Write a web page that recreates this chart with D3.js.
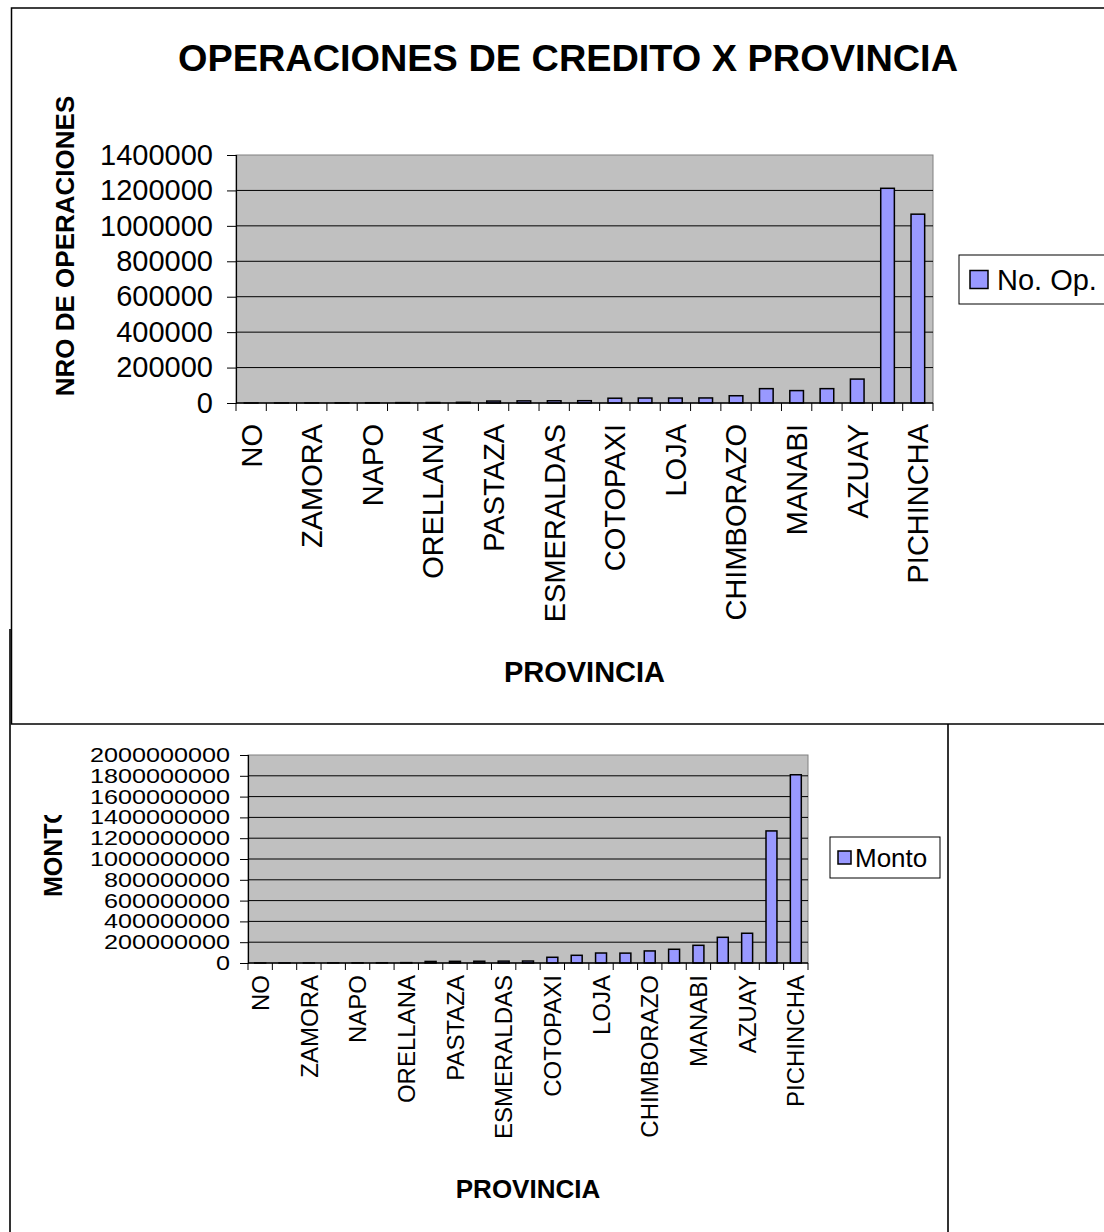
<!DOCTYPE html>
<html>
<head>
<meta charset="utf-8">
<script src="https://cdn.jsdelivr.net/npm/d3@7"></script>
<style>
body { margin: 0; background: #fff; }
text { font-family: "Liberation Sans", Arial, sans-serif; fill: #000; }
</style>
</head>
<body>
<svg id="chart" width="1104" height="1232"></svg>
<script>
// provincias ordenadas como en la hoja (solo se rotulan las pares)
var provincias = ['NO', 'GALAPAGOS', 'ZAMORA', 'MORONA', 'NAPO', 'SUCUMBIOS', 'ORELLANA', 'BOLIVAR',
	'PASTAZA', 'CARCHI', 'ESMERALDAS', 'CAÑAR', 'COTOPAXI', 'IMBABURA', 'LOJA', 'LOS RIOS',
	'CHIMBORAZO', 'EL ORO', 'MANABI', 'TUNGURAHUA', 'AZUAY', 'GUAYAS', 'PICHINCHA'];

var nroOperaciones = [150, 300, 600, 900, 1500, 2100, 2600, 3800,
	11000, 12000, 12500, 13000, 27000, 28000, 28000, 28500,
	41000, 81000, 70000, 81000, 135000, 1212000, 1066000];

var montos = [200000, 500000, 900000, 1500000, 2000000, 2500000, 3500000, 15000000,
	16000000, 17000000, 18000000, 19000000, 55000000, 74000000, 96000000, 95000000,
	116000000, 132000000, 170000000, 247000000, 286000000, 1270000000, 1810000000];

var ticksOperaciones = [0, 200000, 400000, 600000, 800000, 1000000, 1200000, 1400000];
var ticksMonto = [0, 200000000, 400000000, 600000000, 800000000, 1000000000,
	1200000000, 1400000000, 1600000000, 1800000000, 2000000000];

var svg = d3.select('#chart');
var barColor = '#9999FF';

// marcos de los dos graficos
svg.append('rect')
	.attr('x', 10).attr('y', 630).attr('width', 938).attr('height', 640)
	.attr('fill', '#fff').attr('stroke', '#333').attr('stroke-width', 2);
svg.append('rect')
	.attr('x', 11.5).attr('y', 8).attr('width', 1120).attr('height', 716)
	.attr('fill', '#fff').attr('stroke', '#000').attr('stroke-width', 1.5);

function drawChart(o) {
	var g = svg.append('g');

	var x = d3.scaleBand().domain(d3.range(provincias.length)).range([o.left, o.right]);
	var y = d3.scaleLinear().domain([0, o.ticks[o.ticks.length - 1]]).range([o.bottom, o.top]);
	var bw = x.bandwidth();
	var barW = bw * 0.45;

	// area de trazado
	g.append('rect')
		.attr('x', o.left).attr('y', o.top)
		.attr('width', o.right - o.left).attr('height', o.bottom - o.top)
		.attr('fill', '#C0C0C0').attr('stroke', '#808080').attr('stroke-width', 1);

	// lineas de division
	g.selectAll('.grid')
		.data(o.ticks.slice(1, -1))
		.enter()
		.append('line')
		.attr('x1', o.left).attr('x2', o.right)
		.attr('y1', function (d) { return y(d); })
		.attr('y2', function (d) { return y(d); })
		.attr('stroke', '#000').attr('stroke-width', 1);

	// barras
	g.selectAll('.bar')
		.data(o.values)
		.enter()
		.append('rect')
		.attr('x', function (d, i) { return x(i) + (bw - barW) / 2; })
		.attr('y', function (d) { return y(d); })
		.attr('width', barW)
		.attr('height', function (d) { return y(0) - y(d); })
		.attr('fill', barColor).attr('stroke', '#000').attr('stroke-width', 1.5);

	// eje y
	var yAxis = d3.axisLeft(y).tickValues(o.ticks).tickSize(o.tickLen).tickPadding(o.tickPad)
		.tickFormat(d3.format('d'));
	var ya = g.append('g').attr('transform', 'translate(' + o.left + ',0)').call(yAxis);
	ya.select('.domain').attr('stroke', '#000').attr('stroke-width', 1.2);
	ya.selectAll('.tick line').attr('stroke', '#000');
	ya.selectAll('.tick text')
		.attr('font-size', o.tickFont).attr('fill', '#000')
		.style('font-family', '"Liberation Sans", Arial, sans-serif');
	if (o.digitWidth) {
		// etiquetas apretadas: se ensanchan a lo ancho como en el original
		ya.selectAll('.tick text')
			.attr('textLength', function (d) { return String(d).length * o.digitWidth; })
			.attr('lengthAdjust', 'spacingAndGlyphs');
	}

	// eje x: marcas en los limites de cada categoria
	g.append('line')
		.attr('x1', o.left).attr('x2', o.right)
		.attr('y1', o.bottom).attr('y2', o.bottom)
		.attr('stroke', '#000').attr('stroke-width', 1.5);
	g.selectAll('.xtick')
		.data(d3.range(provincias.length + 1))
		.enter()
		.append('line')
		.attr('x1', function (i) { return o.left + i * bw; })
		.attr('x2', function (i) { return o.left + i * bw; })
		.attr('y1', o.bottom).attr('y2', o.bottom + o.tickLen - 1)
		.attr('stroke', '#000').attr('stroke-width', 1);

	g.selectAll('.xlabel')
		.data(provincias)
		.enter()
		.filter(function (d, i) { return i % 2 === 0; })
		.append('text')
		.attr('transform', function (d) {
			var i = provincias.indexOf(d);
			return 'translate(' + (x(i) + bw / 2) + ',' + o.labelTop + ') rotate(-90)';
		})
		.attr('dy', '0.36em')
		.attr('text-anchor', 'end')
		.attr('font-size', o.labelFont)
		.text(function (d) { return d; });

	// titulo eje x
	g.append('text')
		.attr('x', (o.left + o.right) / 2).attr('y', o.xTitleY)
		.attr('text-anchor', 'middle')
		.attr('font-size', o.xTitleFont).attr('font-weight', 'bold')
		.text('PROVINCIA');

	// leyenda
	var lg = g.append('g');
	lg.append('rect')
		.attr('x', o.legend.x).attr('y', o.legend.y)
		.attr('width', o.legend.w).attr('height', o.legend.h)
		.attr('fill', '#fff').attr('stroke', '#000').attr('stroke-width', 1);
	lg.append('rect')
		.attr('x', o.legend.x + o.legend.sx).attr('y', o.legend.y + (o.legend.h - o.legend.s) / 2)
		.attr('width', o.legend.s).attr('height', o.legend.s)
		.attr('fill', barColor).attr('stroke', '#000').attr('stroke-width', 1.5);
	lg.append('text')
		.attr('x', o.legend.x + o.legend.tx).attr('y', o.legend.y + o.legend.h / 2)
		.attr('dy', '0.36em')
		.attr('font-size', o.legend.font)
		.text(o.name);

	return g;
}

// grafico superior: numero de operaciones
svg.append('text')
	.attr('x', 568).attr('y', 71)
	.attr('text-anchor', 'middle')
	.attr('font-size', 36).attr('font-weight', 'bold')
	.attr('textLength', 780).attr('lengthAdjust', 'spacingAndGlyphs')
	.text('OPERACIONES DE CREDITO X PROVINCIA');

drawChart({
	name: 'No. Op.',
	values: nroOperaciones,
	ticks: ticksOperaciones,
	left: 236, right: 933, top: 155, bottom: 403,
	tickLen: 9, tickPad: 14, tickFont: 29,
	labelTop: 424, labelFont: 29,
	xTitleY: 682, xTitleFont: 29,
	legend: { x: 959, y: 255, w: 160, h: 49, s: 18, sx: 11, tx: 38, font: 29 }
});

svg.append('text')
	.attr('transform', 'translate(74,246) rotate(-90)')
	.attr('text-anchor', 'middle')
	.attr('font-size', 26).attr('font-weight', 'bold')
	.text('NRO DE OPERACIONES');

// grafico inferior: monto
drawChart({
	name: 'Monto',
	values: montos,
	ticks: ticksMonto,
	left: 248, right: 808, top: 755, bottom: 963,
	tickLen: 8, tickPad: 10, tickFont: 20, digitWidth: 14,
	labelTop: 975, labelFont: 24,
	xTitleY: 1198, xTitleFont: 26,
	legend: { x: 830, y: 837, w: 110, h: 41, s: 13, sx: 8, tx: 25, font: 26 }
});

// titulo del eje y recortado como en el original
svg.append('clipPath').attr('id', 'clipMonto')
	.append('rect').attr('x', 0).attr('y', 815).attr('width', 200).attr('height', 300);
svg.append('g')
	.attr('clip-path', 'url(#clipMonto)')
	.append('text')
	.attr('transform', 'translate(62,897) rotate(-90)')
	.attr('text-anchor', 'start')
	.attr('font-size', 25).attr('font-weight', 'bold')
	.text('MONTO');
</script>
</body>
</html>
